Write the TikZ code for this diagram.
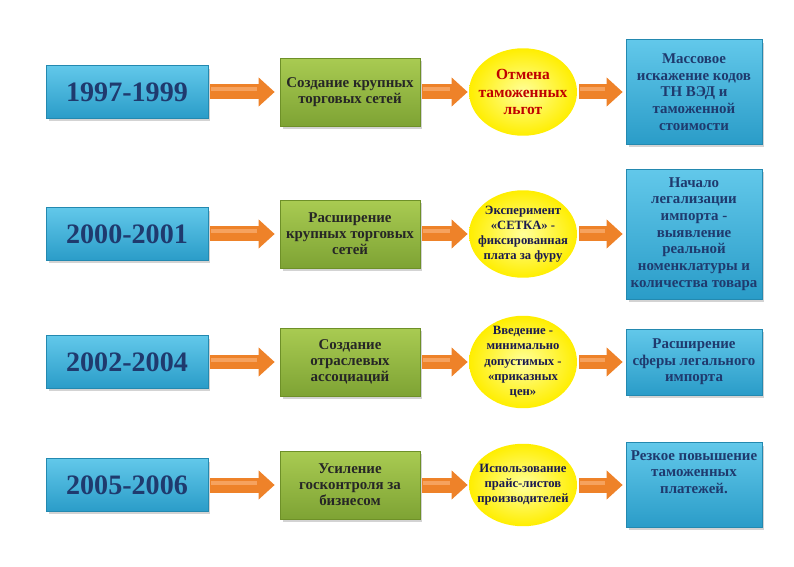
\documentclass[tikz,border=0pt]{standalone}
\usepackage{fontspec}
\setmainfont{Liberation Serif}
\usetikzlibrary{arrows.meta,shadows,shapes.geometric}

\definecolor{cyantop}{HTML}{62C8EA}
\definecolor{cyanbot}{HTML}{2A9CC8}
\definecolor{cyanline}{HTML}{2389B0}
\definecolor{greentop}{HTML}{A9CB52}
\definecolor{greenbot}{HTML}{7EA334}
\definecolor{greenline}{HTML}{6E9028}
\definecolor{ovalin}{HTML}{FFFF9A}
\definecolor{ovalout}{HTML}{FFEE00}
\definecolor{navy}{HTML}{1F3A6E}
\definecolor{ink}{HTML}{1A1A4E}
\definecolor{flowcol}{HTML}{EE8229}
\definecolor{flowlight}{HTML}{F6A25E}

\begin{document}
\begin{tikzpicture}[x=0.02cm,y=-0.02cm,
  yearbox/.style={rectangle, draw=cyanline, top color=cyantop, bottom color=cyanbot,
    minimum width=3.24cm, minimum height=1.06cm, inner sep=0pt,
    font=\fontsize{16}{18}\selectfont\bfseries, text=navy,
    drop shadow={opacity=0.35, shadow xshift=0.05cm, shadow yshift=-0.06cm}},
  stepbox/.style={rectangle, draw=greenline, top color=greentop, bottom color=greenbot,
    minimum width=2.8cm, minimum height=1.36cm, inner sep=0pt, align=center,
    font=\fontsize{8.5}{9.2}\selectfont\bfseries, text=black!85,
    drop shadow={opacity=0.35, shadow xshift=0.05cm, shadow yshift=-0.06cm}},
  oval/.style={ellipse, inner color=ovalin, outer color=ovalout,
    minimum width=2.16cm, minimum height=1.75cm, inner sep=0pt},
  ovaltext/.style={align=center, inner sep=0pt,
    font=\fontsize{7.2}{8.6}\selectfont\bfseries, text=ink},
  resbox/.style={rectangle, draw=cyanline, top color=cyantop, bottom color=cyanbot,
    minimum width=2.72cm, inner sep=0pt, align=center,
    font=\fontsize{8.5}{9.5}\selectfont\bfseries, text=navy,
    drop shadow={opacity=0.35, shadow xshift=0.05cm, shadow yshift=-0.06cm}},
  flow/.style={draw=flowcol, line width=0.3cm, -{Triangle[length=0.32cm, width=0.56cm]},
    shorten >=#1, shorten <=0.04cm,
    postaction={draw=flowlight, line width=0.08cm, -, shorten >=#1+0.36cm,
      shorten <=0.05cm, transform canvas={yshift=0.05cm}}},
  flow/.default=0.1cm]
\useasboundingbox (0,0) rectangle (794,567);

% Years
\node[yearbox] (y1) at (127,92) {1997-1999};
\node[yearbox] (y2) at (127,234) {2000-2001};
\node[yearbox] (y3) at (127,362) {2002-2004};
\node[yearbox] (y4) at (127,485) {2005-2006};

% Steps
\node[stepbox] (s1) at (350,92) {Создание крупных\\торговых сетей};
\node[stepbox] (s2) at (350,234) {Расширение\\крупных торговых\\сетей};
\node[stepbox] (s3) at (350,362) {Создание\\отраслевых\\ассоциаций};
\node[stepbox] (s4) at (350,485) {Усиление\\госконтроля за\\бизнесом};

% Measures
\node[oval, label={[ovaltext, text=red!75!black, font=\fontsize{8.8}{10}\selectfont\bfseries]center:{Отмена\\таможенных\\льгот}}] (m1) at (523,92) {};
\node[oval, label={[ovaltext]center:{Эксперимент\\«СЕТКА» -\\фиксированная\\плата за фуру}}] (m2) at (523,234) {};
\node[oval, minimum height=1.85cm, label={[ovaltext]center:{Введение -\\минимально\\допустимых -\\«приказных\\цен»}}] (m3) at (523,362) {};
\node[oval, minimum height=1.65cm, label={[ovaltext]center:{Использование\\прайс-листов\\производителей}}] (m4) at (523,485) {};

% Results
\node[resbox, minimum height=2.1cm] (r1) at (694,92) {Массовое\\искажение кодов\\ТН ВЭД и\\таможенной\\стоимости};
\node[resbox, minimum height=2.6cm] (r2) at (694,234) {Начало\\легализации\\импорта -\\выявление\\реальной\\номенклатуры и\\количества товара};
\node[resbox, minimum height=1.32cm] (r3) at (694,362) {Расширение\\сферы легального\\импорта};
\node[resbox, minimum height=1.7cm] (r4) at (694,485) {Резкое повышение\\таможенных\\платежей.\rule[-15pt]{0pt}{15pt}};

% Arrows
\draw[flow] (y1) -- (s1);
\draw[flow] (y2) -- (s2);
\draw[flow] (y3) -- (s3);
\draw[flow] (y4) -- (s4);
\draw[flow=0.02cm] (s1) -- (m1);
\draw[flow=0.02cm] (s2) -- (m2);
\draw[flow=0.02cm] (s3) -- (m3);
\draw[flow=0.02cm] (s4) -- (m4);
\draw[flow=0.06cm] (m1) -- (r1);
\draw[flow=0.06cm] (m2) -- (r2);
\draw[flow=0.06cm] (m3) -- (r3);
\draw[flow=0.06cm] (m4) -- (r4);
\end{tikzpicture}
\end{document}
